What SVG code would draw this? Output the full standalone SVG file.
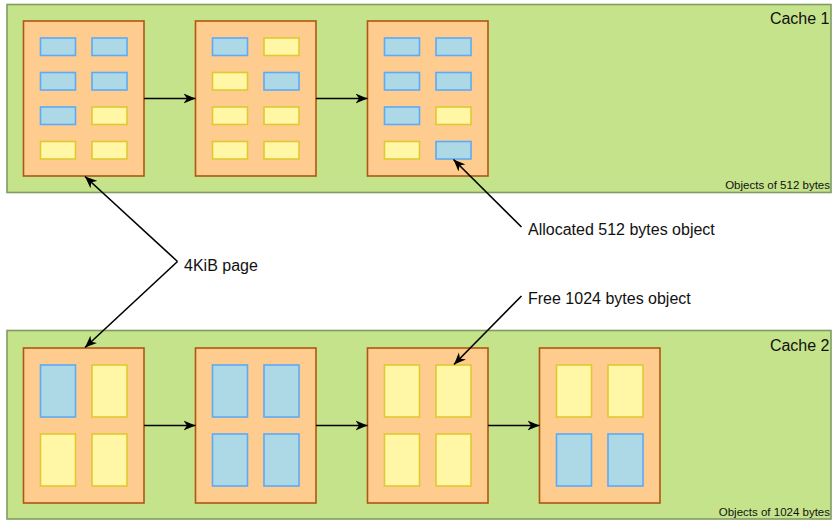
<svg xmlns="http://www.w3.org/2000/svg" width="834" height="520" viewBox="0 0 834 520">
<style>
.cache{fill:#c5e38b;stroke:#7f9c62;stroke-width:1.6}
.page{fill:#ffcc90;stroke:#b0560f;stroke-width:1.6}
.b{fill:#add8e6;stroke:#5eaaf6;stroke-width:1.6}
.y{fill:#fff7a6;stroke:#e0c832;stroke-width:1.6}
.lbl{font-family:"Liberation Sans",Arial,sans-serif;font-size:16px;fill:#111}
.sm{font-family:"Liberation Sans",Arial,sans-serif;font-size:11.5px;fill:#111}
.arr{fill:none;stroke:#000;stroke-width:1.6;marker-end:url(#ah)}
</style>
<defs>
<marker id="ah" markerUnits="userSpaceOnUse" markerWidth="13" markerHeight="11" refX="12" refY="5" orient="auto" viewBox="0 0 13 10">
<path d="M0,0 L12,5 L0,10 L3.5,5 Z" fill="#000"/>
</marker>
</defs>
<g id="cache1">
<rect class="cache" x="7" y="4.5" width="824" height="188"/>
<text class="lbl" x="829.5" y="24" text-anchor="end">Cache 1</text>
<text class="sm" x="830" y="189" text-anchor="end">Objects of 512 bytes</text>
</g>
<g id="cache2">
<rect class="cache" x="7" y="330.5" width="824" height="188.5"/>
<text class="lbl" x="829.5" y="351" text-anchor="end">Cache 2</text>
<text class="sm" x="830" y="516" text-anchor="end">Objects of 1024 bytes</text>
</g>
<g id="c1p1">
<rect class="page" x="23.5" y="21" width="120.5" height="155"/>
<rect class="b" x="40.5" y="38" width="35" height="17.5"/><rect class="b" x="92" y="38" width="35" height="17.5"/>
<rect class="b" x="40.5" y="72.5" width="35" height="17.5"/><rect class="b" x="92" y="72.5" width="35" height="17.5"/>
<rect class="b" x="40.5" y="107" width="35" height="17.5"/><rect class="y" x="92" y="107" width="35" height="17.5"/>
<rect class="y" x="40.5" y="141.5" width="35" height="17.5"/><rect class="y" x="92" y="141.5" width="35" height="17.5"/>
</g>
<g id="c1p2">
<rect class="page" x="195.5" y="21" width="120.5" height="155"/>
<rect class="b" x="212.5" y="38" width="35" height="17.5"/><rect class="y" x="264" y="38" width="35" height="17.5"/>
<rect class="y" x="212.5" y="72.5" width="35" height="17.5"/><rect class="b" x="264" y="72.5" width="35" height="17.5"/>
<rect class="y" x="212.5" y="107" width="35" height="17.5"/><rect class="y" x="264" y="107" width="35" height="17.5"/>
<rect class="y" x="212.5" y="141.5" width="35" height="17.5"/><rect class="y" x="264" y="141.5" width="35" height="17.5"/>
</g>
<g id="c1p3">
<rect class="page" x="367.5" y="21" width="120.5" height="155"/>
<rect class="b" x="384.5" y="38" width="35" height="17.5"/><rect class="b" x="436" y="38" width="35" height="17.5"/>
<rect class="b" x="384.5" y="72.5" width="35" height="17.5"/><rect class="b" x="436" y="72.5" width="35" height="17.5"/>
<rect class="b" x="384.5" y="107" width="35" height="17.5"/><rect class="y" x="436" y="107" width="35" height="17.5"/>
<rect class="y" x="384.5" y="141.5" width="35" height="17.5"/><rect class="b" x="436" y="141.5" width="35" height="17.5"/>
</g>
<g id="c2p1">
<rect class="page" x="23.5" y="348" width="120.5" height="155"/>
<rect class="b" x="40.5" y="365" width="35" height="52"/><rect class="y" x="92" y="365" width="35" height="52"/>
<rect class="y" x="40.5" y="434" width="35" height="52"/><rect class="y" x="92" y="434" width="35" height="52"/>
</g>
<g id="c2p2">
<rect class="page" x="195.5" y="348" width="120.5" height="155"/>
<rect class="b" x="212.5" y="365" width="35" height="52"/><rect class="b" x="264" y="365" width="35" height="52"/>
<rect class="b" x="212.5" y="434" width="35" height="52"/><rect class="b" x="264" y="434" width="35" height="52"/>
</g>
<g id="c2p3">
<rect class="page" x="367.5" y="348" width="120.5" height="155"/>
<rect class="y" x="384.5" y="365" width="35" height="52"/><rect class="y" x="436" y="365" width="35" height="52"/>
<rect class="y" x="384.5" y="434" width="35" height="52"/><rect class="y" x="436" y="434" width="35" height="52"/>
</g>
<g id="c2p4">
<rect class="page" x="539.5" y="348" width="120.5" height="155"/>
<rect class="y" x="556.5" y="365" width="35" height="52"/><rect class="y" x="608" y="365" width="35" height="52"/>
<rect class="b" x="556.5" y="434" width="35" height="52"/><rect class="b" x="608" y="434" width="35" height="52"/>
</g>
<g id="labels">
<text class="lbl" x="184" y="271">4KiB page</text>
<text class="lbl" x="528" y="235">Allocated 512 bytes object</text>
<text class="lbl" x="528" y="304">Free 1024 bytes object</text>
</g>
<g id="connectors">
<path class="arr" d="M144,98.5 H195.5"/>
<path class="arr" d="M316,98.5 H367.5"/>
<path class="arr" d="M144,425.5 H195.5"/>
<path class="arr" d="M316,425.5 H367.5"/>
<path class="arr" d="M488,425.5 H539.5"/>
<path class="arr" d="M177.5,261.5 L85,176.5"/>
<path class="arr" d="M177.5,261.5 L85,347.5"/>
<path class="arr" d="M521.5,227 L453.5,159.5"/>
<path class="arr" d="M521.5,296 L454,364.5"/>
</g>
</svg>
